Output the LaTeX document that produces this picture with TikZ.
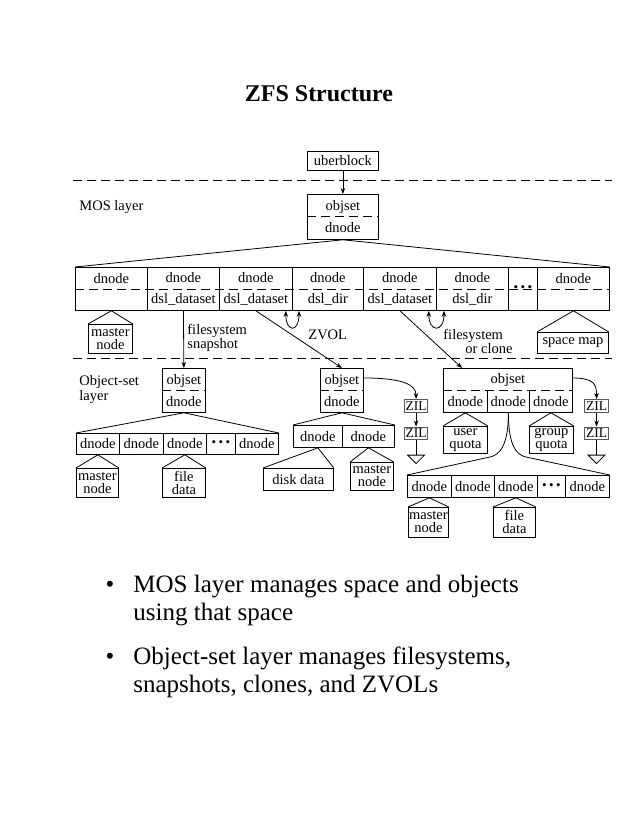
\documentclass[tikz,border=0pt]{standalone}
\usepackage{fontspec}
\setmainfont{Liberation Serif}
\usetikzlibrary{positioning,arrows.meta}

\tikzset{
  lbl/.style={inner sep=0pt, font=\fontsize{14.5}{14}\selectfont},
  box/.style={draw, inner sep=0pt, anchor=north west, align=center,
    minimum width=#1, font=\fontsize{14.5}{13}\selectfont},
  box/.default=40,
  cell/.style={box=#1, minimum height=43, font=\fontsize{14.5}{21.5}\selectfont},
  half/.style={font=\fontsize{14.5}{22}\selectfont},
  sep/.style={dash pattern=on 9pt off 5pt},
  ptr/.style={-{Stealth[length=6pt,width=4.5pt]}},
  twoptr/.style={{Stealth[length=6pt,width=4.5pt]}-{Stealth[length=6pt,width=4.5pt]}},
  dots/.style={font=\fontsize{13}{13}\selectfont},
  zil/.style={box=#1, minimum height=12.5, draw=black!65, line width=1.1pt,
    font=\fontsize{13.5}{13}\selectfont},
}

\newcommand{\threedots}{\textbullet\hspace{2.5pt}\textbullet\hspace{2.5pt}\textbullet}

\begin{document}
\begin{tikzpicture}[x=1pt,y=-1pt,line width=0.8pt]
    \useasboundingbox (0,0) rectangle (638,826);

    \node[font=\fontsize{24}{28}\selectfont\bfseries, anchor=base] (title) at (319,102) {ZFS Structure};

    % MOS layer
    \node[box=71, minimum height=19] (uber) at (307,151) {uberblock};
    \draw[sep] (73,180) -- (612,180);
    \node[lbl, anchor=base west] (moslbl) at (79,211) {MOS layer};
    \node[box=71, minimum height=45, half] (mobj) at (307,194) {objset\\dnode};
    \draw[sep] (mobj.west) -- (mobj.east);
    \draw[ptr] (uber) -- (mobj);

    \foreach \n/\x/\w/\t in {1/75/72/{dnode\\\phantom{d}}, 2/147/72/{dnode\\dsl\_dataset},
        3/219/73/{dnode\\dsl\_dataset}, 4/292/71/{dnode\\dsl\_dir},
        5/363/73/{dnode\\dsl\_dataset}, 6/436/72/{dnode\\dsl\_dir}, 8/537/72/{dnode\\\phantom{d}}}
        \node[cell=\w] (m\n) at (\x,267) {\t};
    \node[cell=29, dots] (m7) at (508,267) {\threedots};
    \draw[sep] (m1.west) -- (m8.east);
    \draw (mobj.south) -- (m1.north west) (mobj.south) -- (m8.north east);

    \node[box=44, minimum height=29] (mmaster) at (88,324) {master\\node};
    \draw (m1.south) -- (mmaster.north west) (m1.south) -- (mmaster.north east);
    \node[box=71, minimum height=21] (spmap) at (537,332) {space map};
    \draw (m8.south) -- (spmap.north west) (m8.south) -- (spmap.north east);

    \draw[twoptr] ([xshift=-7pt]m3.south east) .. controls +(0,22) and +(0,22) .. ([xshift=7pt]m4.south west);
    \draw[twoptr] ([xshift=-8pt]m5.south east) .. controls +(0,22) and +(0,22) .. ([xshift=8pt]m6.south west);

    \node[lbl, anchor=north west, align=left] (snaplbl) at (187,323.4) {filesystem\\snapshot};
    \node[lbl, anchor=base west] (zvollbl) at (308,339) {ZVOL};
    \node[lbl, anchor=north west, align=left] (clonelbl) at (443,328.4) {filesystem\\\hspace{22pt}or clone};

    % Object-set layer
    \draw[sep] (73,358) -- (612,358);
    \node[lbl, anchor=north west, align=left, font=\fontsize{14.5}{12}\selectfont] (oslbl) at (79,375.4) {Object-set\\layer};

    % filesystem
    \node[box=43, minimum height=44, half] (fobj) at (162,368) {objset\\dnode};
    \draw[sep] (fobj.west) -- (fobj.east);
    \draw[ptr] (m2.south) -- (fobj.north);
    \foreach \n/\x/\w in {1/76/43, 2/119/44, 3/163/43, 5/235/43}
        \node[box=\w, minimum height=21] (o\n) at (\x,433) {dnode};
    \node[box=29, minimum height=21, dots] (o4) at (206,433) {\threedots};
    \draw (fobj.south) -- (o1.north west) (fobj.south) -- (o5.north east);
    \node[box=42, minimum height=29] (omaster) at (76,468) {master\\node};
    \draw (o1.south) -- (omaster.north west) (o1.south) -- (omaster.north east);
    \node[box=43, minimum height=29] (ofile) at (162,468) {file\\data};
    \draw (o3.south) -- (ofile.north west) (o3.south) -- (ofile.north east);

    % ZVOL
    \node[box=43, minimum height=44, half] (zobj) at (320,368) {objset\\dnode};
    \draw[sep] (zobj.west) -- (zobj.east);
    \draw[ptr] (m3.south) -- (zobj.north);
    \node[box=49, minimum height=22] (z1) at (293,425) {dnode};
    \node[box=52, minimum height=22] (z2) at (342,425) {dnode};
    \draw (zobj.south) -- (z1.north west) (zobj.south) -- (z2.north east);
    \node[box=70, minimum height=22] (zdisk) at (263,468) {disk data};
    \draw (z1.south) -- (zdisk.north west) (z1.south) -- (zdisk.north east);
    \node[box=43, minimum height=28] (zmaster) at (350,462) {master\\node};
    \draw (z2.south) -- (zmaster.north west) (z2.south) -- (zmaster.north east);

    \node[zil=23] (zil1) at (404,399) {ZIL};
    \node[zil=23] (zil2) at (404,426.5) {ZIL};
    \draw[ptr] ([yshift=-10pt]zobj.north east) .. controls +(40,0) and +(0,-14) .. (zil1.north);
    \draw[ptr] (zil1) -- (zil2);
    \coordinate (g1) at ([yshift=-15pt]zil2.south);
    \draw (zil2.south) -- (g1);
    \draw ([xshift=-8.5pt]g1) -- ([xshift=8.5pt]g1) -- ([yshift=-8.5pt]g1) -- cycle;

    % filesystem or clone
    \node[box=129, minimum height=44] (cobj) at (443,368) {};
    \node[lbl, anchor=base] (cobjlbl) at ([yshift=-15pt]cobj.north) {objset};
    \draw[sep] (cobj.west) -- (cobj.east);
    \draw[ptr] (m5.south) -- ([xshift=19pt]cobj.north west);
    \node[box=44, minimum height=22, draw=none] (c1) at (443,390) {dnode};
    \node[box=42, minimum height=22, draw=none] (c2) at (487,390) {dnode};
    \node[box=43, minimum height=22, draw=none] (c3) at (529,390) {dnode};
    \draw (c1.north east) -- (c1.south east) (c2.north east) -- (c2.south east);
    \node[box=44, minimum height=27] (cuser) at (443,426) {user\\quota};
    \draw (c1.south) -- (cuser.north west) (c1.south) -- (cuser.north east);
    \node[box=44, minimum height=27] (cgroup) at (529,426) {group\\quota};
    \draw (c3.south) -- (cgroup.north west) (c3.south) -- (cgroup.north east);

    \foreach \n/\x/\w in {1/407/44, 2/451/43, 3/494/43, 5/565/44}
        \node[box=\w, minimum height=22] (l\n) at (\x,475) {dnode};
    \node[box=28, minimum height=22, dots] (l4) at (537,475) {\threedots};
    \coordinate (kl) at (490,457);
    \coordinate (kr) at (526,457);
    \draw (c2.south) .. controls +(0,34) and +(9,-2) .. (kl) -- (l1.north west);
    \draw (c2.south) .. controls +(0,34) and +(-9,-2) .. (kr) -- (l5.north east);
    \node[box=40, minimum height=30] (lmaster) at (408,507) {master\\node};
    \draw (l1.south) -- (lmaster.north west) (l1.south) -- (lmaster.north east);
    \node[box=42, minimum height=30] (lfile) at (493,507) {file\\data};
    \draw (l3.south) -- (lfile.north west) (l3.south) -- (lfile.north east);

    \node[zil=24] (zil3) at (584,399) {ZIL};
    \node[zil=24] (zil4) at (584,426.5) {ZIL};
    \draw[ptr] ([yshift=-10pt]cobj.north east) .. controls +(22,0) and +(0,-14) .. (zil3.north);
    \draw[ptr] (zil3) -- (zil4);
    \coordinate (g2) at ([yshift=-15pt]zil4.south);
    \draw (zil4.south) -- (g2);
    \draw ([xshift=-8.5pt]g2) -- ([xshift=8.5pt]g2) -- ([yshift=-8.5pt]g2) -- cycle;

    % bullets
    \node[font=\fontsize{25}{28}\selectfont, anchor=base] (dot1) at (110,592) {\textbullet};
    \node[font=\fontsize{25}{28}\selectfont, inner sep=0pt, anchor=north west, align=left] (item1) at (133,574.9)
        {MOS layer manages space and objects\\using that space};
    \node[font=\fontsize{25}{28}\selectfont, anchor=base] (dot2) at (110,664) {\textbullet};
    \node[font=\fontsize{25}{28}\selectfont, inner sep=0pt, anchor=north west, align=left] (item2) at (133,646.9)
        {Object-set layer manages filesystems,\\snapshots, clones, and ZVOLs};
\end{tikzpicture}
\end{document}
